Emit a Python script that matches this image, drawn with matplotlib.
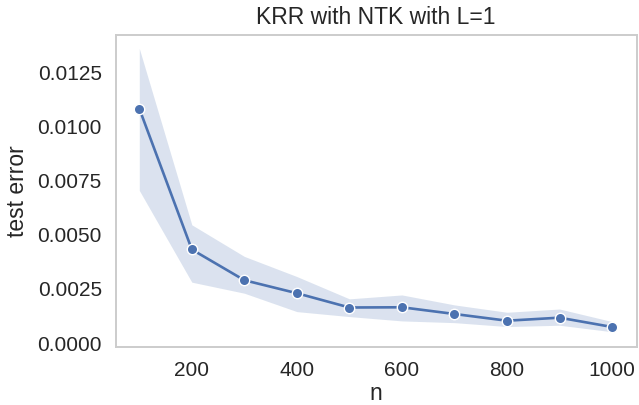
import numpy as np
import matplotlib
matplotlib.use('Agg')
import matplotlib.pyplot as plt

plt.rcParams['font.family'] = ['Liberation Sans', 'DejaVu Sans']

# data
n = [100, 200, 300, 400, 500, 600, 700, 800, 900, 1000]
err = [0.01083, 0.00432, 0.00290, 0.00230, 0.00164, 0.00165, 0.00134, 0.00103, 0.00117, 0.00074]
err_hi = [0.01361, 0.00546, 0.00400, 0.00307, 0.00204, 0.00222, 0.00176, 0.00142, 0.00157, 0.00099]
err_lo = [0.00705, 0.00281, 0.00230, 0.00145, 0.00122, 0.00102, 0.00094, 0.00076, 0.00082, 0.00052]

xticks = [200, 400, 600, 800, 1000]
yticks = [0.0, 0.0025, 0.005, 0.0075, 0.01, 0.0125]

col = '#4c72b0'
txt = '#262626'

fig = plt.figure(figsize=(6.39, 4.05), dpi=100)
ax = fig.add_axes([0.181, 0.144, 0.8155, 0.7696])

ax.fill_between(n, err_lo, err_hi, color=col, alpha=0.2, linewidth=0)
ax.plot(n, err, color=col, linewidth=1.9, marker='o', markersize=7.5,
        markeredgecolor='white', markeredgewidth=1.0)

ax.set_xticks(xticks)
ax.set_yticks(yticks)
ax.set_yticklabels(['%.4f' % v for v in yticks])
ax.set_xlim(55, 1047)
ax.set_ylim(-0.00017, 0.01423)

ax.tick_params(length=0, labelsize=15, colors=txt, pad=10)
ax.set_xlabel('n', fontsize=16.5, color=txt, labelpad=2)
ax.set_ylabel('test error', fontsize=16.5, color=txt, labelpad=6)
ax.set_title('KRR with NTK with L=1', fontsize=16.5, color=txt, pad=8)

for s in ax.spines.values():
    s.set_color('#cccccc')
    s.set_linewidth(1.4)

fig.savefig('out.png', dpi=100)
